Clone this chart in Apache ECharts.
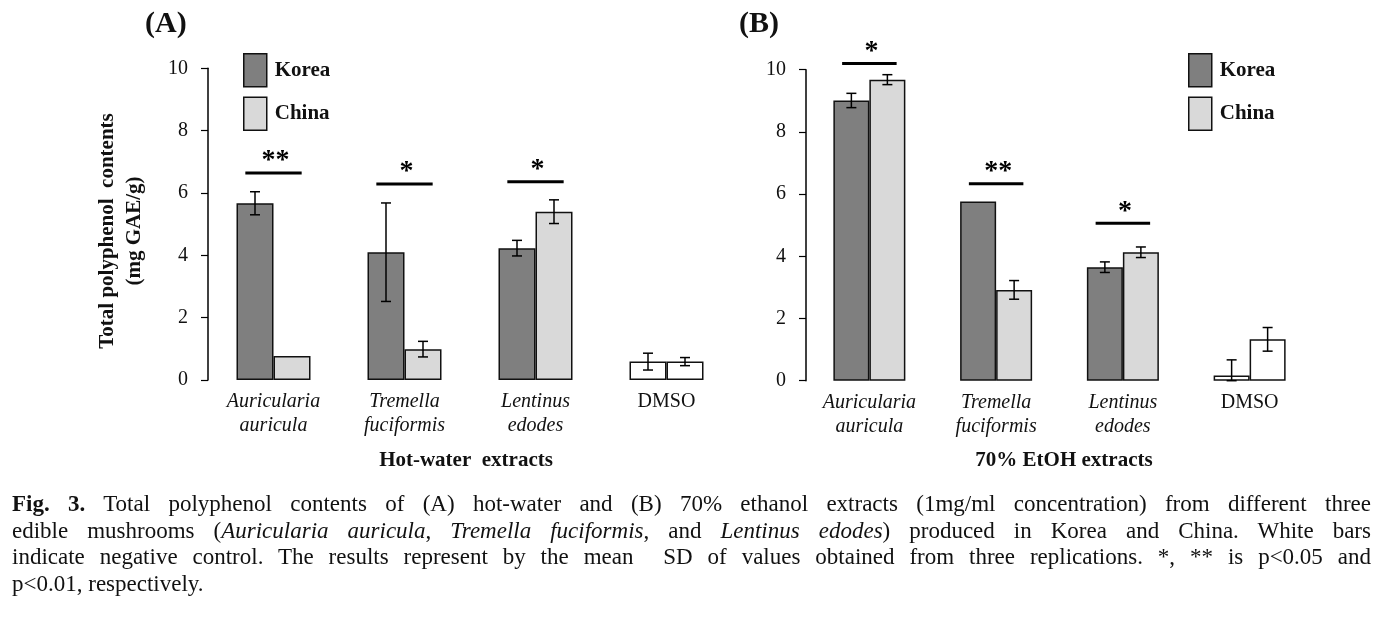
<!DOCTYPE html>
<html>
<head>
<meta charset="utf-8">
<script src="https://cdn.jsdelivr.net/npm/echarts@6/dist/echarts.min.js"></script>
<style>
  html, body { margin: 0; padding: 0; background: #fff; }
  #chart { position: absolute; left: 0; top: 0; width: 1391px; height: 620px; }
  #caption { position: absolute; left: 12px; top: 491px; width: 1359px;
    font-family: "Liberation Serif", "DejaVu Serif", serif; font-size: 23px; color: #111; }
  #caption div { height: 26.7px; line-height: 26.7px; text-align: justify; text-align-last: justify; white-space: normal; }
  #caption div.last { text-align: left; text-align-last: left; }
</style>
</head>
<body>
<div id="chart"></div>
<div id="caption">
  <div><b>Fig. 3.</b> Total polyphenol contents of (A) hot-water and (B) 70% ethanol extracts (1mg/ml concentration) from different three</div>
  <div>edible mushrooms (<i>Auricularia auricula</i>, <i>Tremella fuciformis</i>, and <i>Lentinus edodes</i>) produced in Korea and China. White bars</div>
  <div>indicate negative control. The results represent by the mean &nbsp;SD of values obtained from three replications. *, ** is p&lt;0.05 and</div>
  <div class="last">p&lt;0.01, respectively.</div>
</div>
<script>
// ---- data ----
const categories = ['Auricularia auricula', 'Tremella fuciformis', 'Lentinus edodes', 'DMSO'];
const seriesNames = ['Korea', 'China'];
const yTickValues = [0, 2, 4, 6, 8, 10];

const hotKorea   = [5.67, 4.10, 4.23, 0.59];
const hotKoreaSD = [0.37, 1.58, 0.25, 0.27];
const hotChina   = [0.77, 0.99, 5.40, 0.59];
const hotChinaSD = [0, 0.25, 0.38, 0.13];

const etohKorea   = [9.01, 5.76, 3.65, 0.17];
const etohKoreaSD = [0.23, 0, 0.17, 0.50];
const etohChina   = [9.68, 2.92, 4.13, 1.33];
const etohChinaSD = [0.16, 0.30, 0.17, 0.38];

const hotSigLevel  = [6.64, 6.29, 6.36, null];
const hotSigMark   = ['**', '*', '*', ''];
const etohSigLevel = [10.2, 6.33, 5.06, null];
const etohSigMark  = ['*', '**', '*', ''];

const panelLabels = ['(A)', '(B)'];
const xTitles = ['Hot-water  extracts', '70% EtOH extracts'];
const yTitle = 'Total polyphenol  contents\n(mg GAE/g)';

// ---- styling ----
const SERIF = '"Liberation Serif", "DejaVu Serif", serif';
const KOREA_COLOR = '#7f7f7f';
const CHINA_COLOR = '#d9d9d9';
const CONTROL_COLOR = '#ffffff';
const EDGE = '#111111';
const BAR_W = [37, 36];

const chart = echarts.init(document.getElementById('chart'), null, { renderer: 'canvas' });

function barData(values) {
  return values.map((v, i) => categories[i] === 'DMSO'
    ? { value: v, itemStyle: { color: CONTROL_COLOR } } : v);
}

function barSeries(name, values, color, axisIdx) {
  return {
    type: 'bar', name: name, xAxisIndex: axisIdx, yAxisIndex: axisIdx,
    data: barData(values), barWidth: BAR_W[axisIdx], barGap: '0%',
    itemStyle: { color: color, borderColor: EDGE, borderWidth: 1.5 },
    emphasis: { disabled: true }, z: 2
  };
}

function errSeries(values, sds, side, axisIdx) {
  const data = [];
  values.forEach((v, i) => { if (sds[i] > 0) data.push([i, v, sds[i]]); });
  const bw = BAR_W[axisIdx];
  return {
    type: 'custom', xAxisIndex: axisIdx, yAxisIndex: axisIdx, data: data, z: 5,
    silent: true, clip: false,
    renderItem: function (params, api) {
      const ci = api.value(0), v = api.value(1), sd = api.value(2);
      const base = api.coord([ci, v]);
      const x = base[0] + side * bw / 2;
      const yTop = api.coord([ci, v + sd])[1];
      const yBot = api.coord([ci, Math.max(0, v - sd)])[1];
      const cap = 5;
      const st = { stroke: '#000', lineWidth: 1.5 };
      return {
        type: 'group', children: [
          { type: 'line', shape: { x1: x, y1: yTop, x2: x, y2: yBot }, style: st },
          { type: 'line', shape: { x1: x - cap, y1: yTop, x2: x + cap, y2: yTop }, style: st },
          { type: 'line', shape: { x1: x - cap, y1: yBot, x2: x + cap, y2: yBot }, style: st }
        ]
      };
    }
  };
}

function sigSeries(levels, marks, axisIdx) {
  const data = [];
  levels.forEach((l, i) => { if (l != null) data.push([i, l]); });
  return {
    type: 'custom', xAxisIndex: axisIdx, yAxisIndex: axisIdx, data: data, z: 5,
    silent: true, clip: false,
    renderItem: function (params, api) {
      const ci = api.value(0), lv = api.value(1);
      const p = api.coord([ci, lv]);
      const band = api.size([1, 0])[0];
      const half = band * 0.215;
      return {
        type: 'group', children: [
          { type: 'line', shape: { x1: p[0] - half, y1: p[1], x2: p[0] + half, y2: p[1] },
            style: { stroke: '#000', lineWidth: 3 } },
          { type: 'text', x: p[0] + 2, y: p[1] - 12,
            style: { text: marks[ci], fill: '#000', font: 'bold 28px ' + SERIF,
                     align: 'center', verticalAlign: 'middle' } }
        ]
      };
    }
  };
}

function xAxisCfg(gridIdx) {
  return {
    type: 'category', gridIndex: gridIdx, data: categories,
    axisLine: { show: false }, axisTick: { show: false },
    axisLabel: {
      interval: 0, margin: 10, color: '#111',
      formatter: function (val) {
        if (val === 'DMSO') return '{n|' + val + '}';
        return val.split(' ').map(w => '{i|' + w + '}').join('\n');
      },
      rich: {
        i: { fontFamily: SERIF, fontStyle: 'italic', fontSize: 20, lineHeight: 24, color: '#111' },
        n: { fontFamily: SERIF, fontSize: 20, lineHeight: 24, color: '#111' }
      }
    },
    splitLine: { show: false }
  };
}

function yAxisCfg(gridIdx) {
  return {
    type: 'value', gridIndex: gridIdx,
    min: yTickValues[0], max: yTickValues[yTickValues.length - 1],
    interval: yTickValues[1] - yTickValues[0],
    axisLine: { show: true, lineStyle: { color: '#000', width: 1.5 } },
    axisTick: { show: true, inside: false, length: 7, lineStyle: { color: '#000', width: 1.2 } },
    axisLabel: { margin: 20, color: '#111', fontFamily: SERIF, fontSize: 20 },
    splitLine: { show: false }
  };
}

function legendCfg(left) {
  return {
    left: left, top: 48, orient: 'vertical', icon: 'rect',
    itemWidth: 23, itemHeight: 33, itemGap: 9, selectedMode: false,
    data: [
      { name: 'Korea', itemStyle: { color: KOREA_COLOR, borderColor: EDGE, borderWidth: 1.5 } },
      { name: 'China', itemStyle: { color: CHINA_COLOR, borderColor: EDGE, borderWidth: 1.5 } }
    ],
    textStyle: { fontFamily: SERIF, fontWeight: 'bold', fontSize: 21, color: '#111', padding: [0, 0, 0, 3] }
  };
}

const option = {
  backgroundColor: '#ffffff',
  animation: false,
  grid: [
    { left: 208, top: 68.3, width: 524, height: 311.7, outerBoundsMode: 'none', containLabel: false },
    { left: 806, top: 69.7, width: 507, height: 311, outerBoundsMode: 'none', containLabel: false }
  ],
  xAxis: [xAxisCfg(0), xAxisCfg(1)],
  yAxis: [yAxisCfg(0), yAxisCfg(1)],
  legend: [legendCfg(238), legendCfg(1183)],
  series: [
    barSeries(seriesNames[0], hotKorea, KOREA_COLOR, 0),
    barSeries(seriesNames[1], hotChina, CHINA_COLOR, 0),
    barSeries(seriesNames[0], etohKorea, KOREA_COLOR, 1),
    barSeries(seriesNames[1], etohChina, CHINA_COLOR, 1),
    errSeries(hotKorea, hotKoreaSD, -1, 0),
    errSeries(hotChina, hotChinaSD, 1, 0),
    errSeries(etohKorea, etohKoreaSD, -1, 1),
    errSeries(etohChina, etohChinaSD, 1, 1),
    sigSeries(hotSigLevel, hotSigMark, 0),
    sigSeries(etohSigLevel, etohSigMark, 1)
  ],
  graphic: [
    { type: 'text', left: 145, top: 9, style: { text: panelLabels[0], font: 'bold 30px ' + SERIF, fill: '#111' } },
    { type: 'text', left: 739, top: 9, style: { text: panelLabels[1], font: 'bold 30px ' + SERIF, fill: '#111' } },
    { type: 'text', x: 466, y: 461, style: { text: xTitles[0], font: 'bold 21px ' + SERIF, fill: '#111', align: 'center', verticalAlign: 'middle' } },
    { type: 'text', x: 1064, y: 461, style: { text: xTitles[1], font: 'bold 21px ' + SERIF, fill: '#111', align: 'center', verticalAlign: 'middle' } },
    { type: 'text', x: 121, y: 231, rotation: Math.PI / 2,
      style: { text: yTitle, font: 'bold 21px ' + SERIF, fill: '#111', align: 'center', verticalAlign: 'middle', lineHeight: 27 } }
  ]
};
chart.setOption(option);
</script>
</body>
</html>
